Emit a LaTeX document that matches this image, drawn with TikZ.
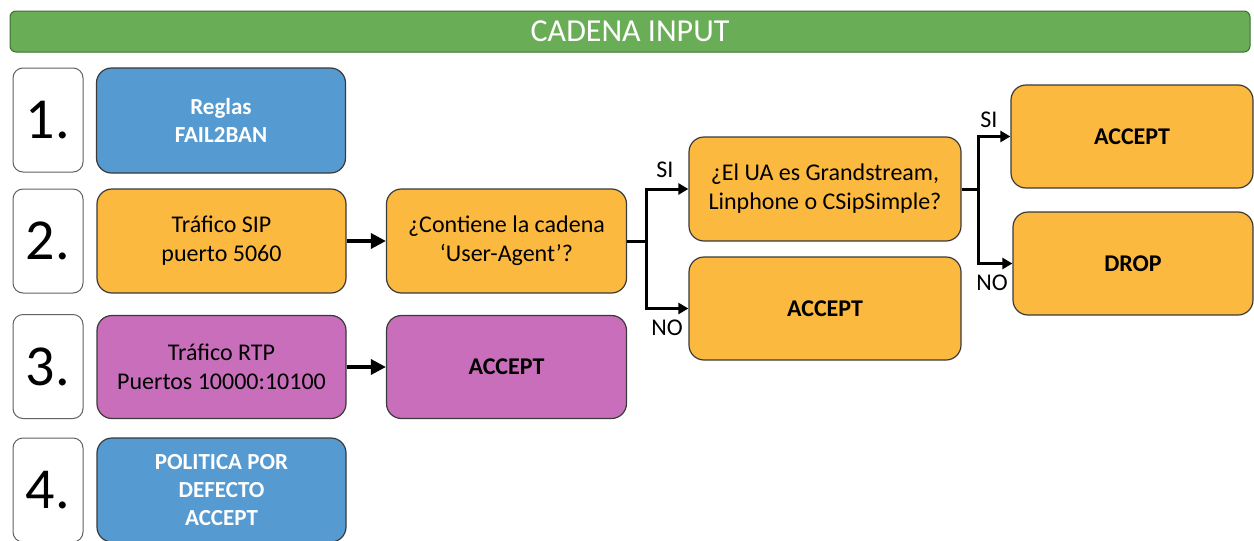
\documentclass[tikz,border=0pt]{standalone}
\usepackage{fontspec}
\setmainfont{Carlito}
\usetikzlibrary{arrows.meta}
\definecolor{cgreen}{HTML}{6AAD57}
\definecolor{cgreenb}{HTML}{3F6B35}
\definecolor{cblue}{HTML}{559BD1}
\definecolor{corange}{HTML}{FCB940}
\definecolor{cpurple}{HTML}{C86EBA}
\definecolor{cborder}{HTML}{3A3A3A}
\tikzset{
  numbox/.style={draw=cborder!80, fill=white, line width=1pt, rounded corners=10pt,
    minimum width=70pt, minimum height=104pt, inner sep=0pt,
    font=\fontsize{58}{64}\selectfont},
  cbox/.style={draw=cborder, line width=1.2pt, rounded corners=15pt, inner sep=0pt,
    align=center, font=\fontsize{24}{29}\selectfont},
  bluebox/.style={cbox, fill=cblue, text=white, font=\fontsize{23}{28}\selectfont\bfseries},
  orangebox/.style={cbox, fill=corange},
  purplebox/.style={cbox, fill=cpurple},
  bigarr/.style={line width=3.4pt, -{Triangle[length=15pt,width=15pt]}},
  treeline/.style={line width=3pt},
  treearr/.style={line width=3pt, -{Triangle[length=10pt,width=11pt]}},
  lbl/.style={font=\fontsize{24}{28}\selectfont, inner sep=0pt},
}
\begin{document}
\begin{tikzpicture}[x=1pt,y=-1pt]
\useasboundingbox (0,0) rectangle (1254,541);
\clip (0,0) rectangle (1254,541);
% title bar
\node[draw=cgreenb, fill=cgreen, line width=1pt, rounded corners=6pt,
  minimum width=1240pt, minimum height=41pt, inner sep=0pt, text=white,
  font=\fontsize{32}{36}\selectfont] (title) at (630,31.5) {CADENA INPUT};
% number boxes
\node[numbox] (n1) at (48,120) {1.};
\node[numbox] (n2) at (48,241) {2.};
\node[numbox] (n3) at (48,366.5) {3.};
\node[numbox] (n4) at (48,490) {4.};
% row 1
\node[bluebox, minimum width=249pt, minimum height=105pt] (b1) at (221,120.5) {Reglas\\FAIL2BAN};
% row 2
\node[orangebox, minimum width=249pt, minimum height=104pt] (sip) at (221.5,241) {Tráfico SIP\\puerto 5060};
\node[orangebox, minimum width=240pt, minimum height=104pt] (q1) at (506.5,241) {¿Contiene la cadena\\‘User-Agent’?};
\node[orangebox, minimum width=272pt, minimum height=104pt] (ua) at (825,189) {¿El UA es Grandstream,\\Linphone o CSipSimple?};
\node[orangebox, minimum width=272pt, minimum height=103pt] (acc2) at (825,308.5) {\bfseries ACCEPT};
\node[orangebox, minimum width=242pt, minimum height=103pt] (acc1) at (1132,136.5) {\bfseries ACCEPT};
\node[orangebox, minimum width=240pt, minimum height=103pt] (drop) at (1133,263.5) {\bfseries DROP};
% row 3
\node[purplebox, minimum width=249pt, minimum height=103pt] (rtp) at (221.5,367) {Tráfico RTP\\Puertos 10000:10100};
\node[purplebox, minimum width=240pt, minimum height=103pt] (acc3) at (506.5,367) {\bfseries ACCEPT};
% row 4
\node[bluebox, minimum width=249pt, minimum height=104pt] (b4) at (221.5,490)
  {POLITICA POR\\DEFECTO\\ACCEPT};
% connectors
\draw[bigarr] (sip) -- (q1);
\draw[bigarr] (rtp) -- (acc3);
\path (q1.east) ++(19,0) coordinate (j1);
\draw[treeline] (q1.east) -- (j1);
\draw[treearr] (j1) |- (ua.west);
\draw[treearr] (j1) |- (acc2.west);
\path (ua.east) ++(17,0) coordinate (j2);
\draw[treeline] (ua.east) -- (j2);
\draw[treearr] (j2) |- (acc1.west);
\draw[treearr] (j2) |- (drop.west);
% labels
\node[lbl] (si1) at (665,170) {SI};
\node[lbl] (no1) at (667,328) {NO};
\node[lbl] (si2) at (989,120) {SI};
\node[lbl] (no2) at (992,283) {NO};
\end{tikzpicture}
\end{document}
